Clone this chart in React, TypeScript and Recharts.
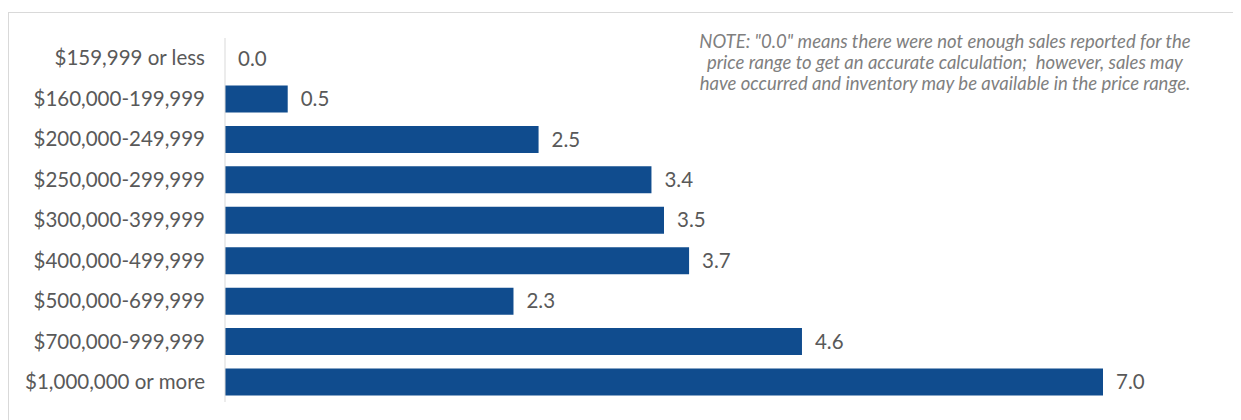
import React from 'react';
import { BarChart, Bar, XAxis, YAxis, LabelList } from 'recharts';

const priceRanges = [
  '$159,999 or less',
  '$160,000-199,999',
  '$200,000-249,999',
  '$250,000-299,999',
  '$300,000-399,999',
  '$400,000-499,999',
  '$500,000-699,999',
  '$700,000-999,999',
  '$1,000,000 or more',
];

const monthsSupply = [0.0, 0.5, 2.5, 3.4, 3.5, 3.7, 2.3, 4.6, 7.0];

const noteLines = [
  'NOTE: "0.0" means there were not enough sales reported for the',
  'price range to get an accurate calculation;  however, sales may',
  'have occurred and inventory may be available in the price range.',
];

const data = priceRanges.map((name, i) => ({ name, value: monthsSupply[i] }));

const FONT = 'Lato, "Open Sans", sans-serif';

const ValueLabel = (props: any) => {
  const { x, y, width, height, value } = props;
  return (
    <text
      x={Number(x) + Number(width) + 13}
      y={Number(y) + Number(height) / 2}
      dy="0.35em"
      fill="#595959"
      fontSize={20.5}
      fontFamily={FONT}
    >
      {Number(value).toFixed(1)}
    </text>
  );
};

const App: React.FC = () => {
  return (
    <div style={{ position: 'relative', width: 1233, height: 412, fontFamily: FONT }}>
      <div
        style={{
          position: 'absolute',
          left: 0,
          top: 4,
          width: 1240,
          height: 420,
          border: '1px solid #d9d9d9',
          boxSizing: 'border-box',
        }}
      />
      <BarChart
        width={1233}
        height={412}
        data={data}
        layout="vertical"
        margin={{ top: 30, right: 138, left: 0, bottom: 18 }}
        barSize={27}
        style={{ position: 'absolute', left: 0, top: 0 }}
      >
        <XAxis type="number" domain={[0, 7]} hide />
        <YAxis
          type="category"
          dataKey="name"
          width={217}
          axisLine={{ stroke: '#d9d9d9' }}
          tickLine={false}
          tickSize={0}
          tickMargin={20}
          tick={{ fill: '#595959', fontSize: 20.5, fontFamily: FONT }}
          interval={0}
        />
        <Bar dataKey="value" fill="#104C8E" isAnimationActive={false} minPointSize={0.001}>
          <LabelList dataKey="value" content={ValueLabel} />
        </Bar>
      </BarChart>
      <div
        style={{
          position: 'absolute',
          left: 637,
          top: 23,
          width: 600,
          textAlign: 'center',
          fontStyle: 'italic',
          fontSize: 18.5,
          lineHeight: '20.8px',
          color: '#7f7f7f',
          whiteSpace: 'pre',
        }}
      >
        {noteLines.join('\n')}
      </div>
    </div>
  );
};

export default App;
